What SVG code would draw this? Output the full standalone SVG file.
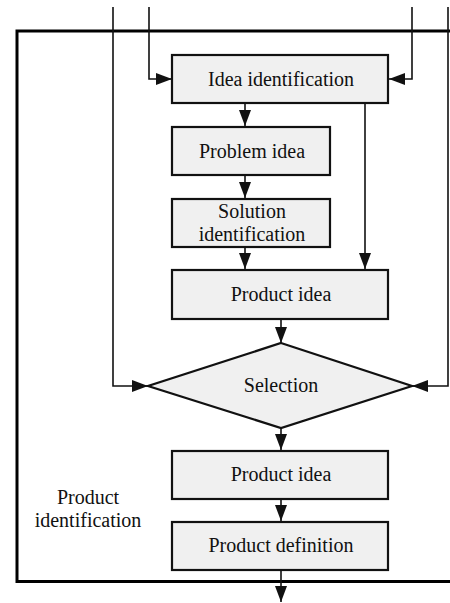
<svg xmlns="http://www.w3.org/2000/svg" width="450" height="603" viewBox="0 0 450 603">
<defs>
<marker id="ah" markerUnits="userSpaceOnUse" markerWidth="16" markerHeight="12" refX="16" refY="6" orient="auto">
<path d="M0,0 L16,6 L0,12 z" fill="#111"/>
</marker>
<style>
.box{fill:#f0f0f0;stroke:#111;stroke-width:2.2}
.t{font-family:"Liberation Serif","Times New Roman",serif;font-size:20px;fill:#111;text-anchor:middle}
.c{fill:none;stroke:#111;stroke-width:1.6}
.a{marker-end:url(#ah)}
</style>
</defs>
<rect width="450" height="603" fill="#fff"/>
<g id="frame">
<path d="M450,31 H17 V581.5 H450" fill="none" stroke="#000" stroke-width="3"/>
<text class="t" x="88" y="504">Product</text>
<text class="t" x="88" y="527">identification</text>
</g>
<g id="connectors">
<path class="c a" d="M149,7 V79 H172"/>
<path class="c a" d="M412,7 V79 H389"/>
<path class="c a" d="M113,7 V386 H148"/>
<path class="c a" d="M448,7 V386 H412"/>
<path class="c a" d="M245,103 V126"/>
<path class="c a" d="M245,175 V198"/>
<path class="c a" d="M245,247 V269"/>
<path class="c a" d="M365,103 V269"/>
<path class="c a" d="M281,319 V343"/>
<path class="c a" d="M281,428 V450"/>
<path class="c a" d="M281,499 V521"/>
<path class="c a" d="M281,570 V602"/>
</g>
<g id="idea-identification">
<rect class="box" x="172" y="55" width="216" height="48"/>
<text class="t" x="281" y="86">Idea identification</text>
</g>
<g id="problem-idea">
<rect class="box" x="172" y="127" width="158" height="48"/>
<text class="t" x="252" y="158">Problem idea</text>
</g>
<g id="solution-identification">
<rect class="box" x="172" y="199" width="158" height="48"/>
<text class="t" x="252" y="218">Solution</text>
<text class="t" x="252" y="241">identification</text>
</g>
<g id="product-idea-1">
<rect class="box" x="172" y="270" width="216" height="49"/>
<text class="t" x="281" y="301">Product idea</text>
</g>
<g id="selection">
<path class="box" d="M281,343 L412,386 L281,428 L148,386 Z"/>
<text class="t" x="281" y="392">Selection</text>
</g>
<g id="product-idea-2">
<rect class="box" x="172" y="451" width="216" height="48"/>
<text class="t" x="281" y="481">Product idea</text>
</g>
<g id="product-definition">
<rect class="box" x="172" y="522" width="216" height="48"/>
<text class="t" x="281" y="552">Product definition</text>
</g>
</svg>
